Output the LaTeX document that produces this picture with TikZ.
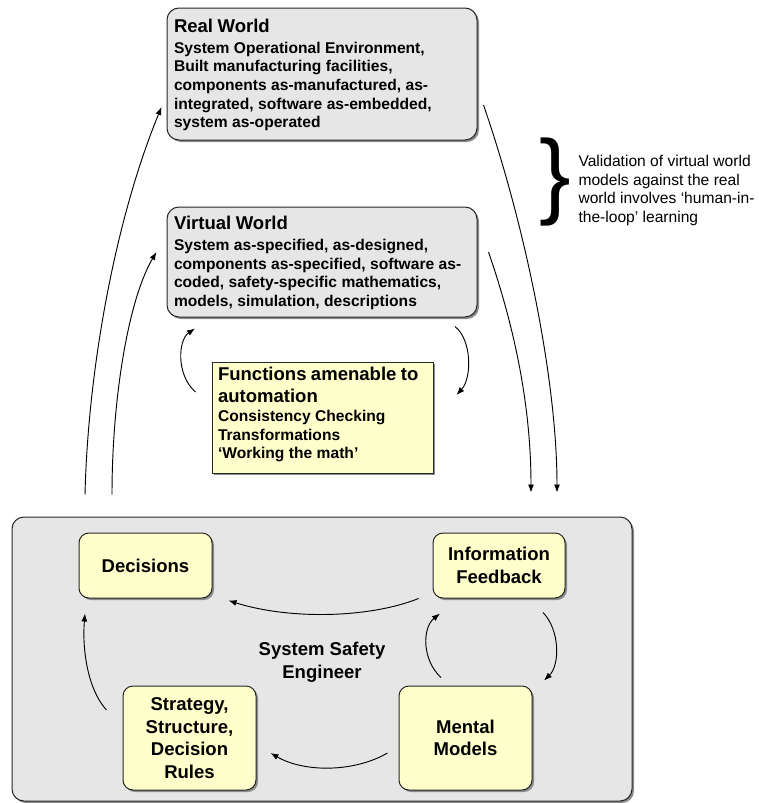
\documentclass[tikz,border=0pt]{standalone}
\usepackage{fontspec}
\setmainfont{Liberation Sans}
\usetikzlibrary{shadows,arrows.meta,calc}
\definecolor{boxgray}{HTML}{E6E6E6}
\definecolor{boxyellow}{HTML}{FFFFCC}
\newcommand\tfont{\fontsize{13.9pt}{17pt}\selectfont\bfseries}
\newcommand\bfont{\fontsize{11.7pt}{14pt}\selectfont\bfseries}
\newcommand\rfont{\fontsize{11.7pt}{13.9pt}\selectfont}
\begin{document}
\begin{tikzpicture}[x=0.75pt,y=-0.75pt,line width=0.75pt,
  sh/.style={drop shadow={shadow xshift=1.5pt,shadow yshift=-1.5pt,fill=black!45,opacity=1}},
  graybox/.style={draw=black!85,fill=boxgray,rounded corners=9pt,sh,inner sep=0},
  ybox/.style={draw=black!85,fill=boxyellow,rounded corners=7.5pt,sh,align=center,font=\tfont,inner sep=0},
  sqbox/.style={draw=black!85,fill=boxyellow,sh,inner sep=0},
  boxtext/.style={anchor=west,align=left,text width=240pt,inner sep=0},
  conn/.style={-{Latex[length=6pt,width=4.5pt]},line width=0.7pt}]
\useasboundingbox (0,0) rectangle (758,803);

% boxes
\node[graybox,minimum width=465pt,minimum height=213pt] (big) at (322,659) {};
\node[graybox,minimum width=232.5pt,minimum height=99pt] (real) at (322,74) {};
\node[graybox,minimum width=232.5pt,minimum height=82.5pt] (virtual) at (322,262) {};
\node[sqbox,minimum width=165.75pt,minimum height=83.25pt] (func) at (322.5,417.5) {};

\node[boxtext] (realtxt) at ($(real.west)+(7,1)$) {{\tfont Real World\par}\vspace{1.75pt}{\bfont System Operational Environment,\\Built manufacturing facilities,\\components as-manufactured, as-\\integrated, software as-embedded,\\system as-operated\par}};
\node[boxtext] (virtualtxt) at ($(virtual.west)+(7,1)$) {{\tfont Virtual World\par}\vspace{1.75pt}{\bfont System as-specified, as-designed,\\components as-specified, software as-\\coded, safety-specific mathematics,\\models, simulation, descriptions\par}};
\node[boxtext] (functxt) at ($(func.west)+(6,-3)$) {{\fontsize{13.9pt}{16.5pt}\selectfont\bfseries Functions amenable to\\automation\par}\vspace{0.5pt}{\bfont Consistency Checking\\Transformations\\‘Working the math’\par}};

\node[ybox,minimum width=99.75pt,minimum height=48.75pt] (dec) at (145.5,565.5) {Decisions};
\node[ybox,minimum width=99pt,minimum height=48.75pt] (info) at (499,565.5) {Information\\Feedback};
\node[ybox,minimum width=99.75pt,minimum height=78pt] (strat) at (189.5,738) {Strategy,\\Structure,\\Decision\\Rules};
\node[ybox,minimum width=99.75pt,minimum height=78pt] (mental) at (465.5,738) {Mental\\Models};
\node[font=\tfont,align=center,inner sep=0] (sse) at (322,662) {System Safety\\Engineer};

% brace and note
\node[inner sep=0,font=\fontsize{71pt}{71pt}\selectfont] (brace) at (555,182) {\}};
\node[anchor=north west,align=left,inner sep=0,font=\rfont] (valtxt) at (578,155) {Validation of virtual world\\models against the real\\world involves ‘human-in-\\the-loop’ learning};

% connectors
\draw[conn] ($(big.north)+(-237,-22)$) .. controls (88,370) and (115,220) .. ($(real.west)+(-5,33)$);
\draw[conn] ($(big.north)+(-210,-22)$) .. controls (112,400) and (128,300) .. ($(virtual.west)+(-10,-10)$);
\draw[conn] ($(real.east)+(6,31)$) .. controls (525,225) and (557,380) .. ($(big.north)+(235,-24)$);
\draw[conn] ($(virtual.east)+(11,-10)$) .. controls (512,320) and (531,400) .. ($(big.north)+(209,-24)$);
\draw[conn] ($(func.west)+(-16,-25.5)$) .. controls (176,375) and (178,340) .. ($(virtual.south)+(-127,11)$);
\draw[conn] ($(virtual.south)+(133,9)$) .. controls (472,340) and (472,378) .. ($(func.east)+(23,-22.5)$);

\draw[conn] ($(info.south west)+(-14,0)$) .. controls (370,618) and (290,620) .. ($(dec.south east)+(16,2)$);
\draw[conn] ($(info.south)+(44,14)$) .. controls (560,630) and (560,665) .. ($(mental.north)+(78.5,-5)$);
\draw[conn] ($(mental.north)+(-24.5,-8)$) .. controls (422,660) and (422,628) .. ($(info.south)+(-59,15)$);
\draw[conn] ($(mental.west)+(-11,15)$) .. controls (355,772) and (305,773) .. ($(strat.east)+(14,15)$);
\draw[conn] ($(strat.west)+(-16,-28)$) .. controls (88,690) and (82,650) .. ($(dec.south)+(-60.5,15)$);
\end{tikzpicture}
\end{document}
